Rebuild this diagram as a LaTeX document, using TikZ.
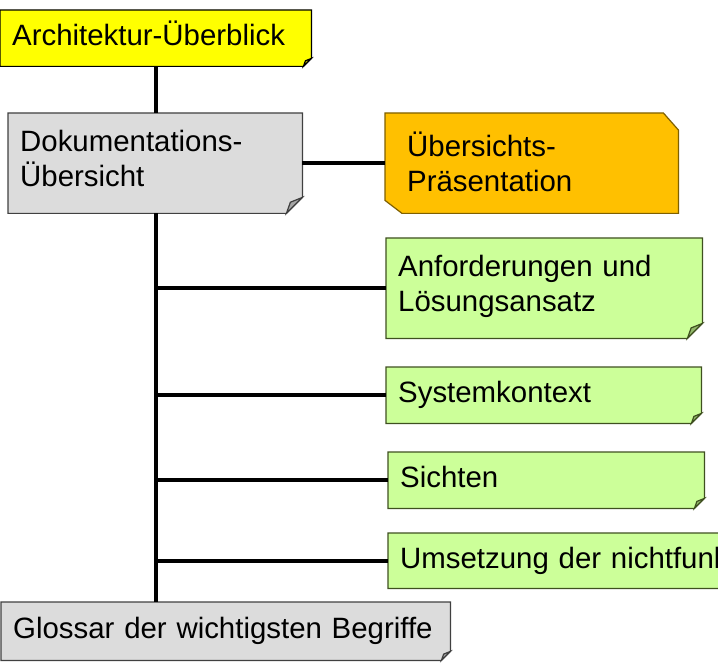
\documentclass[tikz,border=0pt]{standalone}
\usepackage{fontspec}
\setmainfont{Liberation Sans}
\usetikzlibrary{calc,positioning,backgrounds}

\definecolor{topfill}{HTML}{FFFF00}
\definecolor{topfold}{HTML}{C8C800}
\definecolor{grayfill}{HTML}{DCDCDC}
\definecolor{grayfold}{HTML}{A6A6A6}
\definecolor{grayline}{HTML}{404040}
\definecolor{orangefill}{HTML}{FFC000}
\definecolor{orangeline}{HTML}{7F6000}
\definecolor{greenfill}{HTML}{CCFF99}
\definecolor{greenfold}{HTML}{92B86A}
\definecolor{greenline}{HTML}{3F5020}

\tikzset{
  trunk/.style={line width=3.6pt},
  boxline/.style={line width=1.2pt},
  note/.style={anchor=north west, inner xsep=12pt, inner ysep=0pt, align=left,
    font=\fontsize{29.4}{34.5}\selectfont},
  oneline/.style={note, text height=22pt, text depth=7pt},
  twoline/.style={note, text height=22pt, text depth=45pt}
}

% box outline with folded corner: node, fold, fill, fold fill, line
\newcommand{\notebox}[5]{%
\begin{pgfonlayer}{background}
\filldraw[boxline, draw=#5, fill=#3] (#1.north west) -- (#1.north east)
  -- ([yshift=#2]#1.south east) -- ([xshift=-#2]#1.south east)
  -- (#1.south west) -- cycle;
\filldraw[boxline, draw=#5, fill=#4] ([yshift=#2]#1.south east)
  -- ([xshift=-0.75*#2, yshift=0.7*#2]#1.south east)
  -- ([xshift=-#2]#1.south east) -- cycle;
\end{pgfonlayer}}

\begin{document}
\begin{tikzpicture}[x=1pt, y=-1pt]
\useasboundingbox (0,0) rectangle (718,663);
\clip (0,0) rectangle (718,663);
% boxes
\node[oneline, minimum width=311pt, minimum height=56pt, text width=287pt] (top) at (0,10) {Architektur-Überblick};
\notebox{top}{8pt}{topfill}{topfold}{black}
\node[twoline, minimum width=294pt, minimum height=100pt, text width=270pt] (doku) at (8,113) {Dokumentations-\\Übersicht};
\notebox{doku}{16pt}{grayfill}{grayfold}{grayline}
\node[twoline, text depth=35pt, inner xsep=22pt, minimum width=293pt, minimum height=100pt, text width=249pt] (praes) at (385,113) {Übersichts-\\Präsentation};
\begin{pgfonlayer}{background}
\filldraw[boxline, draw=orangeline, fill=orangefill] (praes.north west)
  -- ([xshift=-15pt]praes.north east) -- ([yshift=-17pt]praes.north east)
  -- (praes.south east) -- ([xshift=17pt]praes.south west)
  -- ([yshift=13pt]praes.south west) -- cycle;
\end{pgfonlayer}
\node[twoline, minimum width=316pt, minimum height=100pt, text width=292pt] (anf) at (386,238) {Anforderungen und\\Lösungsansatz};
\notebox{anf}{15pt}{greenfill}{greenfold}{greenline}
\node[oneline, minimum width=315pt, minimum height=56pt, text width=291pt] (sys) at (386,367) {Systemkontext};
\notebox{sys}{10pt}{greenfill}{greenfold}{greenline}
\node[oneline, minimum width=316pt, minimum height=56pt, text width=292pt] (sicht) at (388,452) {Sichten};
\notebox{sicht}{10pt}{greenfill}{greenfold}{greenline}
\node[oneline, minimum width=760pt, minimum height=55pt, text width=736pt] (umsetz) at (388,533) {Umsetzung der nichtfunktionalen Anforderungen};
\notebox{umsetz}{10pt}{greenfill}{greenfold}{greenline}
\node[oneline, minimum width=449pt, minimum height=58pt, text width=425pt] (gloss) at (1,602) {Glossar der wichtigsten Begriffe};
\notebox{gloss}{9pt}{grayfill}{grayfold}{grayline}
% connectors
\draw[trunk] (top.south) -- (top.south |- doku.north);
\draw[trunk] (top.south |- doku.south) -- (top.south |- gloss.north);
\draw[trunk] (doku.east) -- (praes.west);
\foreach \n in {anf, sys, sicht, umsetz}
  \draw[trunk] (top.south |- \n.west) -- (\n.west);
\end{tikzpicture}
\end{document}
